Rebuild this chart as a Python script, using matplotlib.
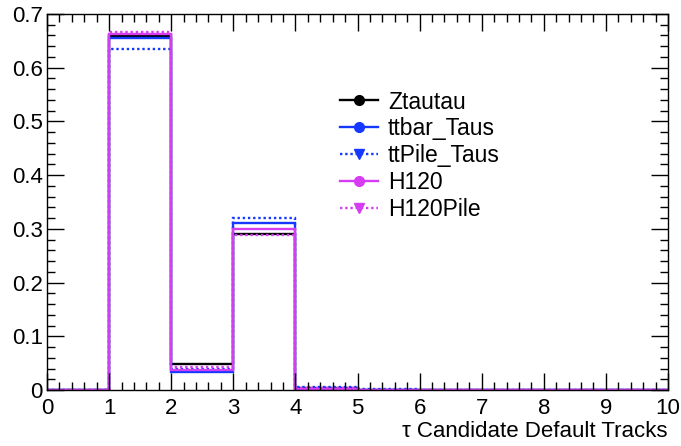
import matplotlib
matplotlib.use("Agg")
import matplotlib.pyplot as plt
from matplotlib.lines import Line2D
from matplotlib.ticker import MultipleLocator, FuncFormatter

plt.rcParams['font.family'] = ['Liberation Sans', 'DejaVu Sans']

# Normalised track-multiplicity distributions, one value per unit bin 0..10
bin_edges = list(range(0, 11))
ztautau   = [0.0, 0.659, 0.048, 0.290, 0.003, 0.0005, 0.0, 0.0, 0.0, 0.0]
ttbar     = [0.0, 0.656, 0.034, 0.310, 0.002, 0.0003, 0.0, 0.0, 0.0, 0.0]
ttpile    = [0.0, 0.634, 0.040, 0.321, 0.006, 0.0010, 0.0, 0.0, 0.0, 0.0]
h120      = [0.0, 0.662, 0.037, 0.300, 0.002, 0.0003, 0.0, 0.0, 0.0, 0.0]
h120pile  = [0.0, 0.667, 0.042, 0.288, 0.003, 0.0005, 0.0, 0.0, 0.0, 0.0]

series_names = ["Ztautau", "ttbar_Taus", "ttPile_Taus", "H120", "H120Pile"]
series_vals = [ztautau, ttbar, ttpile, h120, h120pile]
BLACK, BLUE, MAGENTA = "#000000", "#1438ff", "#d63cf2"
colors = [BLACK, BLUE, BLUE, MAGENTA, MAGENTA]
styles = ["-", "-", (0, (1, 1.2)), "-", (0, (1, 1.2))]
markers = ["o", "o", "v", "o", "v"]

fig = plt.figure(figsize=(6.81, 4.46), dpi=100)
ax = fig.add_axes([47/681, 56/446, 621/681, 376/446])

for vals, c, ls in zip(series_vals, colors, styles):
    ax.stairs(vals, bin_edges, color=c, linestyle=ls, linewidth=1.7, baseline=None)

ax.set_xlim(0, 10)
ax.set_ylim(0, 0.7)

ax.xaxis.set_major_locator(MultipleLocator(1))
ax.xaxis.set_minor_locator(MultipleLocator(0.2))
ax.yaxis.set_major_locator(MultipleLocator(0.1))
ax.yaxis.set_minor_locator(MultipleLocator(0.02))

def yfmt(v, pos):
    return "0" if abs(v) < 1e-9 else f"{v:.1f}"

ax.yaxis.set_major_formatter(FuncFormatter(yfmt))
ax.xaxis.set_major_formatter(FuncFormatter(lambda v, p: f"{int(round(v))}"))

ax.tick_params(which="both", direction="in", top=True, right=True, labelsize=16, width=1)
ax.tick_params(which="major", length=12)
ax.tick_params(which="minor", length=6)
ax.tick_params(axis="x", which="major", pad=6)
ax.tick_params(axis="y", which="major", pad=3)
for s in ax.spines.values():
    s.set_linewidth(1)

ax.set_xlabel("τ Candidate Default Tracks", fontsize=16, loc="right", labelpad=1)

handles = [Line2D([0], [0], color=c, linestyle=ls, linewidth=1.7, marker=m,
                  markersize=7, markerfacecolor=c, markeredgecolor=c)
           for c, ls, m in zip(colors, styles, markers)]
ax.legend(handles, series_names, loc="upper left", bbox_to_anchor=(0.453, 0.827),
          frameon=False, fontsize=16.5, handlelength=1.65, handletextpad=0.45,
          labelspacing=0.165, borderpad=0)

fig.savefig("out.png", dpi=100)
